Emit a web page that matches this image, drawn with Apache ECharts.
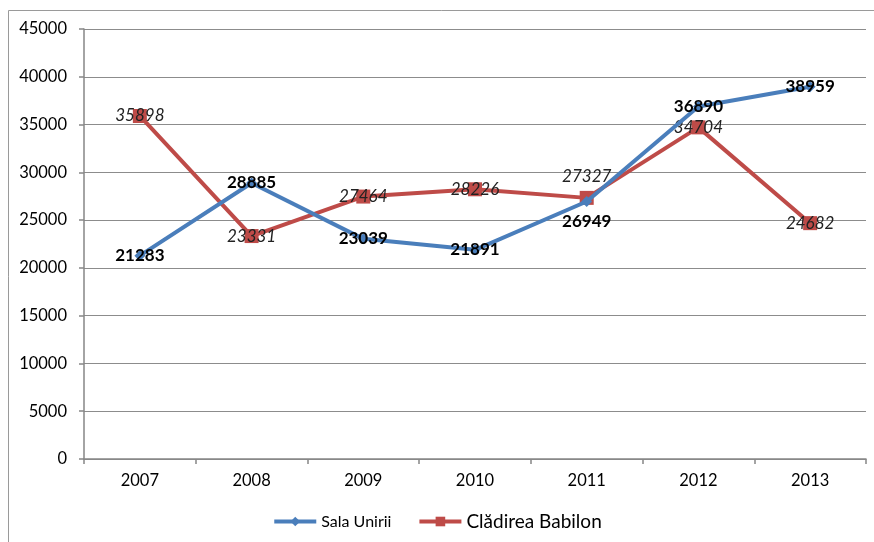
<!DOCTYPE html>
<html>
<head>
<meta charset="utf-8">
<script src="https://cdn.jsdelivr.net/npm/echarts@6/dist/echarts.min.js"></script>
<style>html,body{margin:0;padding:0;background:#fff}#c{width:874px;height:542px}</style>
</head>
<body>
<div id="c"></div>
<script>
const years = ['2007','2008','2009','2010','2011','2012','2013'];
const salaUnirii = [21283, 28885, 23039, 21891, 26949, 36890, 38959];
const cladireaBabilon = [35898, 23331, 27464, 28226, 27327, 34704, 24682];
const yTicks = {min: 0, max: 45000, interval: 5000};

const FONT = 'Lato';
const blueLabelPos = {4: 'bottom'};
const redLabelPos = {4: 'top'};

function buildData(values, posMap) {
  return values.map((v, i) => {
    const d = {value: v};
    if (posMap[i]) d.label = {position: posMap[i], distance: 6};
    return d;
  });
}

const chart = echarts.init(document.getElementById('c'));
chart.setOption({
  animation: false,
  backgroundColor: '#fff',
  graphic: [{
    type: 'rect', silent: true,
    shape: {x: 8.5, y: 10.5, width: 900, height: 600},
    style: {fill: 'none', stroke: '#9a9a9a', lineWidth: 1}
  }],
  grid: {left: 84, right: 8, top: 29, bottom: 83, containLabel: false},
  legend: {
    bottom: 6, left: 'center',
    itemWidth: 42, itemHeight: 12, itemGap: 26,
    lineStyle: {width: 4},
    formatter: function (name) {
      return name === 'Clădirea Babilon' ? '{b|' + name + '}' : '{a|' + name + '}';
    },
    textStyle: {
      fontFamily: FONT, color: '#000',
      rich: {a: {fontSize: 16, fontFamily: FONT, color: '#000'}, b: {fontSize: 19, fontFamily: FONT, color: '#000'}}
    },
    data: ['Sala Unirii', 'Clădirea Babilon']
  },
  xAxis: {
    type: 'category', data: years, boundaryGap: true,
    axisLine: {lineStyle: {color: '#868686', width: 1.5}},
    axisTick: {show: true, alignWithLabel: false, length: 5, lineStyle: {color: '#868686', width: 1.5}},
    axisLabel: {color: '#000', fontSize: 16.5, fontFamily: FONT, margin: 13},
    splitLine: {show: false}
  },
  yAxis: {
    type: 'value', min: yTicks.min, max: yTicks.max, interval: yTicks.interval,
    axisLine: {show: true, lineStyle: {color: '#868686', width: 1.5}},
    axisTick: {show: true, length: 5, lineStyle: {color: '#868686', width: 1.5}},
    axisLabel: {color: '#000', fontSize: 16.5, fontFamily: FONT, margin: 17, formatter: v => String(v)},
    splitLine: {lineStyle: {color: '#8c8c8c', width: 1.2}}
  },
  series: [
    {
      name: 'Sala Unirii', type: 'line',
      data: buildData(salaUnirii, blueLabelPos),
      symbol: 'diamond', symbolSize: 11, showAllSymbol: true,
      lineStyle: {color: '#4a7ebb', width: 4},
      itemStyle: {color: '#4a7ebb'},
      label: {show: true, position: 'inside', color: '#000', fontWeight: 'bold', fontSize: 17, fontFamily: FONT},
      z: 3
    },
    {
      name: 'Clădirea Babilon', type: 'line',
      data: buildData(cladireaBabilon, redLabelPos),
      symbol: 'rect', symbolSize: 14, showAllSymbol: true,
      lineStyle: {color: '#be4b48', width: 4},
      itemStyle: {color: '#be4b48'},
      label: {show: true, position: 'inside', color: '#222', fontStyle: 'italic', fontSize: 17, fontFamily: FONT},
      z: 2
    }
  ]
});
</script>
</body>
</html>
